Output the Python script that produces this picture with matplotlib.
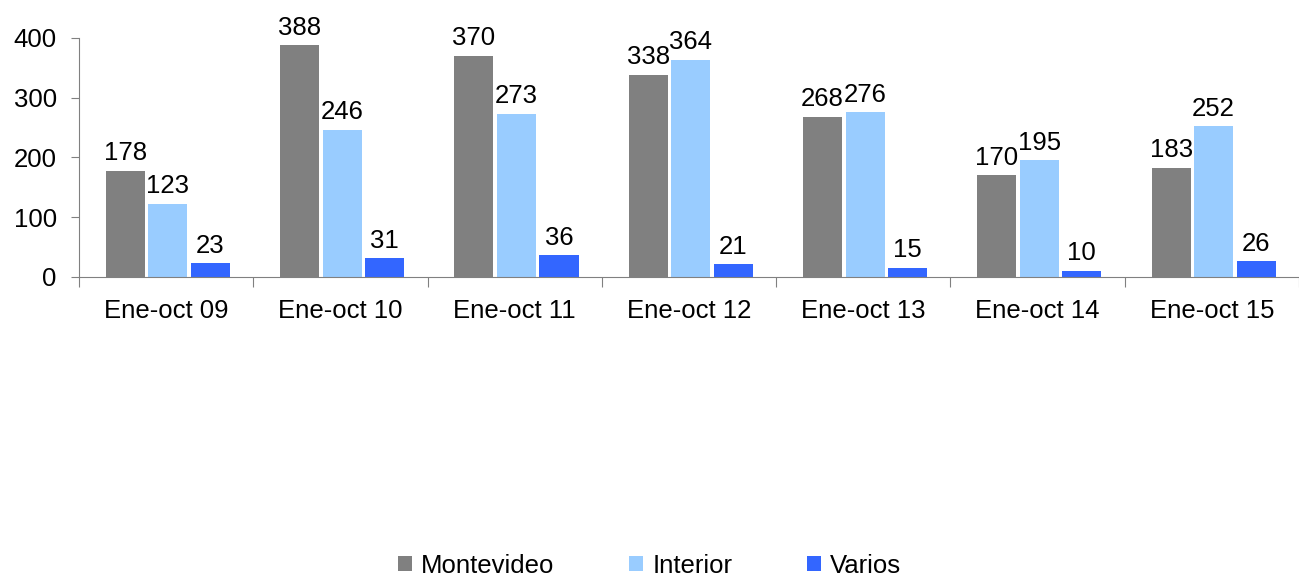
import numpy as np
import matplotlib
matplotlib.use("Agg")
import matplotlib.pyplot as plt

plt.rcParams['font.family'] = ['Liberation Sans', 'DejaVu Sans']

categories = ['Ene-oct 09', 'Ene-oct 10', 'Ene-oct 11', 'Ene-oct 12',
              'Ene-oct 13', 'Ene-oct 14', 'Ene-oct 15']
montevideo = [178, 388, 370, 338, 268, 170, 183]
interior = [123, 246, 273, 364, 276, 195, 252]
varios = [23, 31, 36, 21, 15, 10, 26]

series = [('Montevideo', montevideo, '#808080'),
          ('Interior', interior, '#99CCFF'),
          ('Varios', varios, '#3366FF')]

FS = 18.5

fig = plt.figure(figsize=(12.99, 5.81), dpi=100)
ax = fig.add_axes([79 / 1299, 1 - 277 / 581, 1 - 79 / 1299, (277 - 38) / 581])

x = np.arange(len(categories))
step = 0.244
width = 0.224
for i, (name, vals, col) in enumerate(series):
    pos = x + (i - 1) * step + 0.01
    ax.bar(pos, vals, width, color=col, label=name)
    for xp, v in zip(pos, vals):
        ax.annotate(str(v), (xp, v), xytext=(0, 4), textcoords='offset points',
                    ha='center', va='bottom', fontsize=FS)

ax.set_xlim(-0.5, len(categories) - 0.5)
ax.set_ylim(0, 400)
ax.set_yticks([0, 100, 200, 300, 400])
ax.tick_params(axis='y', labelsize=FS, length=6, color='#808080', pad=10)

# category labels centred, ticks on category boundaries
ax.set_xticks(np.arange(len(categories) + 1) - 0.5)
ax.set_xticklabels([])
ax.set_xticks(x, minor=True)
ax.set_xticklabels(categories, minor=True, fontsize=FS)
ax.tick_params(axis='x', which='major', length=7, color='#808080')
ax.tick_params(axis='x', which='minor', length=0, pad=16)

for s in ['top', 'right']:
    ax.spines[s].set_visible(False)
for s in ['left', 'bottom']:
    ax.spines[s].set_color('#808080')

fig.legend(loc='lower center', bbox_to_anchor=(0.5, -0.034), ncol=3, frameon=False,
           fontsize=FS, handlelength=0.55, handleheight=0.55, handletextpad=0.35,
           columnspacing=2.9)

fig.savefig('out.png', dpi=100)
